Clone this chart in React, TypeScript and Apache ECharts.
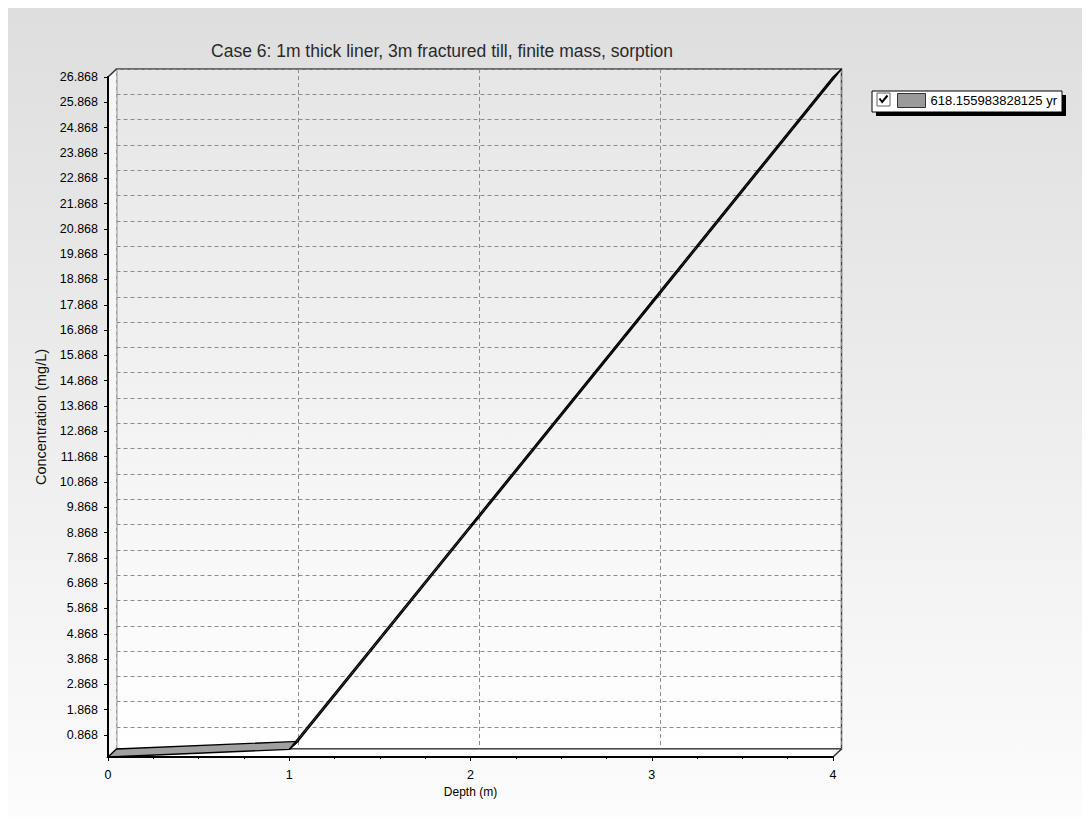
import React, { useEffect, useRef } from "react";
import * as echarts from "echarts";

// ---- data ----
const TITLE = "Case 6: 1m thick liner, 3m fractured till, finite mass, sorption";
const SERIES_NAME = "618.155983828125 yr";
const X_NAME = "Depth (m)";
const Y_NAME = "Concentration (mg/L)";
const DEPTHS = [0, 1, 2, 3, 4];
const CONC = [0, 0.3, 9.15, 18.0, 26.868];
const X_MIN = 0;
const X_MAX = 4;
const Y_MIN = 0;
const Y_MAX = 26.868;
const Y_TICKS = [
  0.868, 1.868, 2.868, 3.868, 4.868, 5.868, 6.868, 7.868, 8.868, 9.868,
  10.868, 11.868, 12.868, 13.868, 14.868, 15.868, 16.868, 17.868, 18.868,
  19.868, 20.868, 21.868, 22.868, 23.868, 24.868, 25.868, 26.868,
];

// ---- layout / style ----
const W = 1082;
const H = 809;
const FRONT = { left: 100, top: 69, width: 725, height: 680 };
const DX = 8.5;
const DY = -8;
const FONT = "'Liberation Sans', Arial, sans-serif";

export default function App() {
  const ref = useRef<HTMLDivElement>(null);

  useEffect(() => {
    if (!ref.current) return;
    const chart = echarts.init(ref.current, undefined, { renderer: "svg" });

    const segments = DEPTHS.slice(0, -1).map((d, i) => [d, CONC[i], DEPTHS[i + 1], CONC[i + 1]]);
    const off = (p: number[]) => [p[0] + DX, p[1] + DY];

    chart.setOption({
      animation: false,
      backgroundColor: "transparent",
      legend: {
        left: 889,
        top: 85,
        padding: 0,
        itemWidth: 28,
        itemHeight: 14,
        icon: "rect",
        selectedMode: false,
        z: 10,
        data: [
          {
            name: SERIES_NAME,
            itemStyle: { color: "#9a9a9a", borderColor: "#333", borderWidth: 1 },
          },
        ],
        textStyle: { fontSize: 13, color: "#000", fontFamily: FONT },
      },
      graphic: [
        {
          type: "text",
          z: 5,
          x: 434,
          y: 43,
          style: {
            text: TITLE,
            fill: "#2a2a2a",
            fontSize: 17.5,
            fontFamily: FONT,
            align: "center",
            verticalAlign: "middle",
          },
        },
        { type: "rect", z: 5, shape: { x: 868, y: 87, width: 190, height: 21 }, style: { fill: "#000" } },
        {
          type: "rect",
          z: 6,
          shape: { x: 864, y: 83, width: 190, height: 21 },
          style: { fill: "#fff", stroke: "#000", lineWidth: 1 },
        },
        {
          type: "rect",
          z: 7,
          shape: { x: 869, y: 85, width: 13, height: 13 },
          style: { fill: "#fff", stroke: "#666", lineWidth: 1 },
        },
        {
          type: "polyline",
          z: 8,
          shape: { points: [[871.5, 90.5], [874.2, 94], [879.5, 87.5]] },
          style: { stroke: "#000", lineWidth: 2, fill: "none" },
        },
      ],
      grid: [
        { ...FRONT, show: false },
        {
          left: FRONT.left + DX,
          top: FRONT.top + DY,
          width: FRONT.width,
          height: FRONT.height,
          show: true,
          backgroundColor: new echarts.graphic.LinearGradient(0, 0, 0, 1, [
            { offset: 0, color: "#e6e6e6" },
            { offset: 1, color: "#ffffff" },
          ]),
          borderColor: "#444",
          borderWidth: 1.5,
        },
      ],
      xAxis: [
        {
          type: "value",
          gridIndex: 0,
          min: X_MIN,
          max: X_MAX,
          interval: 1,
          z: 5,
          name: X_NAME,
          nameLocation: "middle",
          nameGap: 29,
          nameTextStyle: { fontSize: 12, color: "#000", fontFamily: FONT },
          axisLine: { show: true, onZero: false, lineStyle: { color: "#000", width: 2 } },
          axisTick: { show: true, length: 4, lineStyle: { color: "#000" } },
          minorTick: { show: true, splitNumber: 4, length: 2, lineStyle: { color: "#000" } },
          axisLabel: { margin: 11, fontSize: 12.5, color: "#000", fontFamily: FONT },
          splitLine: { show: false },
        },
        {
          type: "value",
          gridIndex: 1,
          min: X_MIN,
          max: X_MAX,
          interval: 1,
          axisLine: { show: false },
          axisTick: { show: false },
          axisLabel: { show: false },
          splitLine: { show: true, lineStyle: { color: "#8c8c8c", width: 1, type: [4, 3] } },
        },
      ],
      yAxis: [
        {
          type: "value",
          gridIndex: 0,
          min: Y_MIN,
          max: Y_MAX,
          z: 5,
          name: Y_NAME,
          nameLocation: "middle",
          nameGap: 50,
          nameTextStyle: { fontSize: 14.5, color: "#111", fontFamily: FONT },
          axisLine: { show: true, onZero: false, lineStyle: { color: "#000", width: 2 } },
          axisTick: { show: true, length: 4, customValues: Y_TICKS, lineStyle: { color: "#000" } },
          axisLabel: {
            customValues: Y_TICKS,
            margin: 10,
            fontSize: 12.5,
            color: "#000",
            fontFamily: FONT,
            formatter: (v: number) => v.toFixed(3),
          },
          splitLine: { show: false },
        },
        {
          type: "value",
          gridIndex: 1,
          min: Y_MIN,
          max: Y_MAX,
          axisLine: { show: false },
          axisTick: { show: false, customValues: Y_TICKS },
          axisLabel: { show: false, customValues: Y_TICKS },
          splitLine: { show: true, lineStyle: { color: "#8c8c8c", width: 1, type: [4, 3] } },
        },
      ],
      series: [
        {
          type: "custom",
          name: "walls",
          xAxisIndex: 0,
          yAxisIndex: 0,
          silent: true,
          z: 2,
          data: [[X_MIN, Y_MIN]],
          renderItem: (_params: any, api: any) => {
            const a = api.coord([X_MIN, Y_MIN]);
            const b = api.coord([X_MIN, Y_MAX]);
            const c = api.coord([X_MAX, Y_MIN]);
            return {
              type: "group",
              children: [
                {
                  type: "polygon",
                  shape: { points: [a, b, off(b), off(a)] },
                  style: { fill: "#f6f6f6" },
                },
                {
                  type: "polygon",
                  shape: { points: [a, c, off(c), off(a)] },
                  style: { fill: "#ffffff" },
                },
                {
                  type: "line",
                  shape: { x1: b[0], y1: b[1], x2: b[0] + DX, y2: b[1] + DY },
                  style: { stroke: "#333", lineWidth: 1.5 },
                },
                {
                  type: "line",
                  shape: { x1: c[0], y1: c[1], x2: c[0] + DX, y2: c[1] + DY },
                  style: { stroke: "#333", lineWidth: 1.5 },
                },
                {
                  type: "line",
                  shape: { x1: a[0] + DX, y1: a[1] + DY, x2: c[0] + DX, y2: c[1] + DY },
                  style: { stroke: "#222", lineWidth: 1.2 },
                },
              ],
            };
          },
        },
        {
          type: "custom",
          name: SERIES_NAME,
          xAxisIndex: 0,
          yAxisIndex: 0,
          z: 3,
          itemStyle: { color: "#9a9a9a" },
          encode: { x: [0, 2], y: [1, 3] },
          data: segments,
          renderItem: (_params: any, api: any) => {
            const p1 = api.coord([api.value(0), api.value(1)]);
            const p2 = api.coord([api.value(2), api.value(3)]);
            return {
              type: "polygon",
              shape: { points: [p1, p2, off(p2), off(p1)] },
              style: { fill: "#a0a0a0", stroke: "#000", lineWidth: 1.4 },
            };
          },
        },
      ],
    });

    return () => chart.dispose();
  }, []);

  return (
    <div
      ref={ref}
      style={{
        width: W,
        height: H,
        background: "linear-gradient(to bottom, #dedede 0%, #fcfcfc 100%)",
      }}
    />
  );
}
